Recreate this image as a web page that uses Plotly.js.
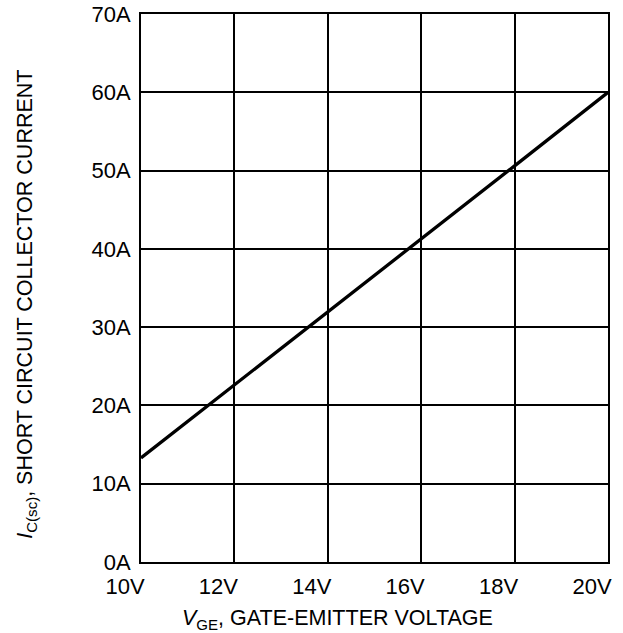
<!DOCTYPE html>
<html>
<head>
<meta charset="utf-8">
<script src="https://cdn.plot.ly/plotly-3.0.1.min.js"></script>
<style>html,body{margin:0;padding:0;background:#fff;}</style>
</head>
<body>
<div id="chart" style="width:623px;height:633px;"></div>
<script>
// Data
var vgeVolts = [10, 12, 14, 16, 18, 20];
var icscAmps = [13.3, 22.6, 31.9, 41.2, 50.6, 60];
var xTickVals = [10, 12, 14, 16, 18, 20];
var xTickText = ['10V', '12V', '14V', '16V', '18V', '20V'];
var yTickVals = [0, 10, 20, 30, 40, 50, 60, 70];
var yTickText = ['0A', '10A', '20A', '30A', '40A', '50A', '60A', '70A'];
var xTitle = '<i>V</i><sub>GE</sub>, GATE-EMITTER VOLTAGE';
var yTitle = '<i>I</i><sub>C(sc)</sub>, SHORT CIRCUIT COLLECTOR CURRENT';

var FONT = 'Liberation Sans, Arial, Helvetica, sans-serif';

var trace = {
  x: vgeVolts,
  y: icscAmps,
  type: 'scatter',
  mode: 'lines',
  line: {color: '#000', width: 3.3},
  hoverinfo: 'skip'
};

var layout = {
  width: 623,
  height: 633,
  margin: {l: 141, r: 15, t: 14, b: 71, pad: 0},
  paper_bgcolor: '#fff',
  plot_bgcolor: '#fff',
  showlegend: false,
  font: {family: FONT, color: '#000', size: 22},
  xaxis: {
    range: [10, 20],
    tickvals: xTickVals,
    ticktext: xTickText,
    showgrid: true,
    gridcolor: '#000',
    gridwidth: 2,
    showline: true,
    linecolor: '#000',
    linewidth: 2,
    mirror: true,
    zeroline: false,
    ticks: '',
    ticklabelshift: -16,
    ticklabelstandoff: 4,
    tickfont: {family: FONT, size: 22, color: '#000'},
    fixedrange: true
  },
  yaxis: {
    range: [0, 70],
    tickvals: yTickVals,
    ticktext: yTickText,
    showgrid: true,
    gridcolor: '#000',
    gridwidth: 2,
    showline: true,
    linecolor: '#000',
    linewidth: 2,
    mirror: true,
    zeroline: false,
    ticks: '',
    ticklabelstandoff: 4,
    tickfont: {family: FONT, size: 22, color: '#000'},
    fixedrange: true
  },
  annotations: [
    {
      text: xTitle,
      xref: 'paper', yref: 'paper',
      x: 0.4215, y: -0.1046,
      xanchor: 'center', yanchor: 'middle',
      showarrow: false,
      font: {family: FONT, size: 21.5, color: '#000'}
    },
    {
      text: yTitle,
      xref: 'paper', yref: 'paper',
      x: -0.245, y: 0.4705,
      xanchor: 'center', yanchor: 'middle',
      textangle: -90,
      showarrow: false,
      font: {family: FONT, size: 21.5, color: '#000'}
    }
  ]
};

Plotly.newPlot('chart', [trace], layout, {displayModeBar: false, staticPlot: true});
</script>
</body>
</html>
